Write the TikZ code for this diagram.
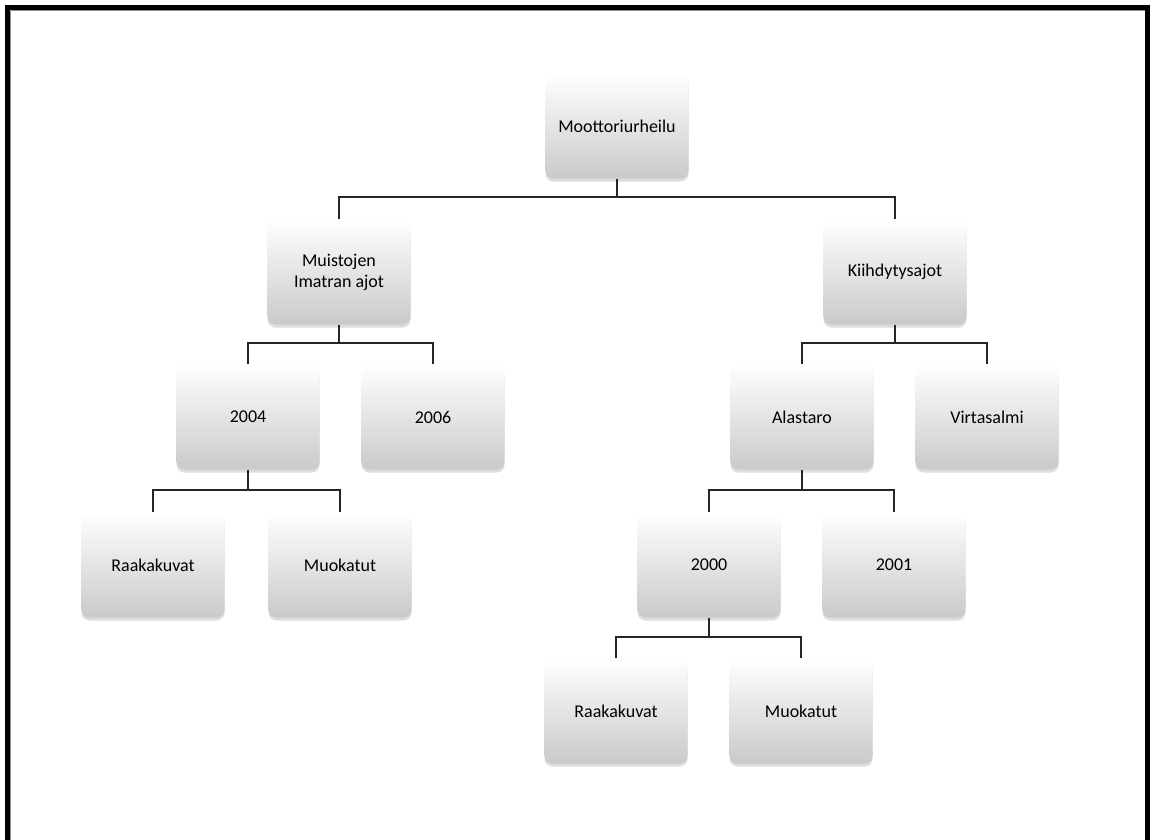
\documentclass[tikz,border=0pt]{standalone}
\usepackage{fontspec}
\setmainfont{Carlito}
\usetikzlibrary{shadows}
\begin{document}
\begin{tikzpicture}[x=1pt,y=-1pt,
  box/.style={rectangle, rounded corners=8pt, minimum width=143pt, minimum height=105pt,
    inner sep=2pt, align=center, font=\fontsize{18}{21}\selectfont, text=black,
    top color=white, bottom color=black!21, draw=none,
    drop shadow={shadow xshift=0pt, shadow yshift=-3pt, opacity=0.22, fill=black!60}},
  conn/.style={draw=black!85, line width=2pt}]
\useasboundingbox (0,0) rectangle (1150,839);
\fill[white] (0,0) rectangle (1150,839);
% frame
\draw[black!45, line width=1pt] (10.5,10.5) -- (1144.5,10.5);
\draw[black!45, line width=1pt] (10.5,10.5) -- (10.5,900);
\draw[black, line width=5pt] (7.5,900) -- (7.5,7.5) -- (1147.5,7.5) -- (1147.5,900);
% nodes
\node[box] (root) at (617,126) {Moottoriurheilu};
\node[box] (mi) at (339,272) {Muistojen\\Imatran ajot};
\node[box] (ki) at (895,272) {Kiihdytysajot};
\node[box] (y04) at (248,417) {2004};
\node[box] (y06) at (433,417) {2006};
\node[box] (al) at (802,417) {Alastaro};
\node[box] (vi) at (987,417) {Virtasalmi};
\node[box] (rk1) at (153,565) {Raakakuvat};
\node[box] (mu1) at (340,565) {Muokatut};
\node[box] (y00) at (709,565) {2000};
\node[box] (y01) at (894,565) {2001};
\node[box] (rk2) at (616,711) {Raakakuvat};
\node[box] (mu2) at (801,711) {Muokatut};
% bar coordinates
\coordinate (b1) at (617,197);
\coordinate (b2) at (339,343);
\coordinate (b3) at (895,343);
\coordinate (b4) at (248,490);
\coordinate (b5) at (802,490);
\coordinate (b6) at (709,637);
% connectors
\draw[conn] (root.south) -- (b1) -| (mi.north);
\draw[conn] (b1) -| (ki.north);
\draw[conn] (mi.south) -- (b2) -| (y04.north);
\draw[conn] (b2) -| (y06.north);
\draw[conn] (ki.south) -- (b3) -| (al.north);
\draw[conn] (b3) -| (vi.north);
\draw[conn] (y04.south) -- (b4) -| (rk1.north);
\draw[conn] (b4) -| (mu1.north);
\draw[conn] (al.south) -- (b5) -| (y00.north);
\draw[conn] (b5) -| (y01.north);
\draw[conn] (y00.south) -- (b6) -| (rk2.north);
\draw[conn] (b6) -| (mu2.north);
\end{tikzpicture}
\end{document}
